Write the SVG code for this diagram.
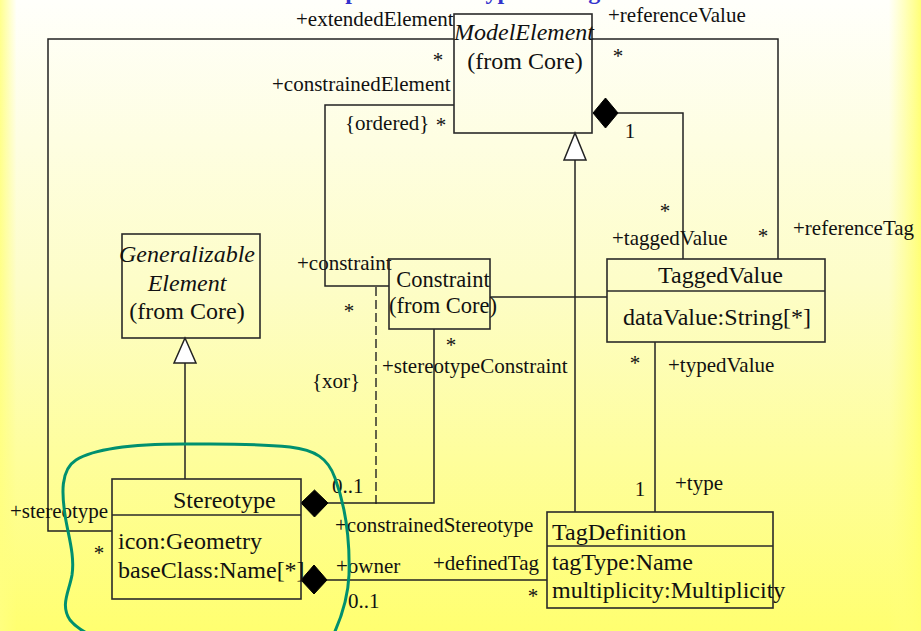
<svg xmlns="http://www.w3.org/2000/svg" width="921" height="631" viewBox="0 0 921 631">
  <defs>
    <linearGradient id="bgV" x1="0" y1="0" x2="0" y2="1">
      <stop offset="0" stop-color="#fffffb"/>
      <stop offset="0.45" stop-color="#fdfdc8"/>
      <stop offset="1" stop-color="#ffff70"/>
    </linearGradient>
    <linearGradient id="bgH" x1="0" y1="0" x2="1" y2="0">
      <stop offset="0" stop-color="#ffff80" stop-opacity="0.9"/>
      <stop offset="0.018" stop-color="#ffff80" stop-opacity="0"/>
      <stop offset="0.965" stop-color="#ffff80" stop-opacity="0"/>
      <stop offset="1" stop-color="#ffff70" stop-opacity="0.95"/>
    </linearGradient>
    <style>
      .box { fill: none; stroke: #2a2a2a; stroke-width: 1.6; }
      .ln { fill: none; stroke: #222; stroke-width: 1.5; }
      .dash { fill: none; stroke: #222; stroke-width: 1.4; stroke-dasharray: 9 4; }
      .dia { fill: #000; stroke: #000; stroke-width: 1; }
      .tri { fill: #fff; stroke: #222; stroke-width: 1.5; }
      .cls { font-family: "Liberation Serif", "Times New Roman", serif; font-size: 24px; fill: #111; }
      .it { font-style: italic; }
      .lbl { font-family: "Liberation Serif", "Times New Roman", serif; font-size: 21px; fill: #111; }
      .mid { text-anchor: middle; }
      .title { font-family: "Liberation Serif", "Times New Roman", serif; font-size: 24px; font-weight: bold; fill: #3333cc; }
      .lasso { fill: none; stroke: #00906f; stroke-width: 3; }
    </style>
  </defs>

  <!-- background -->
  <rect x="0" y="0" width="921" height="631" fill="url(#bgV)"/>
  <rect x="0" y="0" width="921" height="631" fill="url(#bgH)"/>

  <!-- slide heading, mostly above the top edge -->
  <text class="title" x="280" y="-1.5">Description: Stereotypes &amp; Tags</text>

  <!-- connectors -->
  <g id="connectors">
    <!-- extendedElement / stereotype -->
    <polyline class="ln" points="454,39 48,39 48,531 112,531"/>
    <!-- referenceValue / referenceTag -->
    <polyline class="ln" points="592,39 778,39 778,259"/>
    <!-- ModelElement composition of TaggedValue -->
    <polyline class="ln" points="618,113 683,113 683,259"/>
    <polygon class="dia" points="593,113 605.5,98 618,113 605.5,128"/>
    <!-- constrainedElement / constraint -->
    <polyline class="ln" points="454,105 325,105 325,286 389,286"/>
    <!-- Constraint - TaggedValue -->
    <line class="ln" x1="490" y1="297" x2="607" y2="297"/>
    <!-- TagDefinition generalizes ModelElement -->
    <line class="ln" x1="575" y1="160" x2="575" y2="512"/>
    <polygon class="tri" points="575,133 564,160 586,160"/>
    <!-- Stereotype generalizes GeneralizableElement -->
    <line class="ln" x1="185" y1="363" x2="185" y2="479"/>
    <polygon class="tri" points="185,338 174,363 196,363"/>
    <!-- typedValue / type -->
    <line class="ln" x1="655" y1="342" x2="655" y2="512"/>
    <!-- constrainedStereotype / stereotypeConstraint -->
    <polyline class="ln" points="328,503 434,503 434,329"/>
    <polygon class="dia" points="301,503 314.5,490 328,503 314.5,517"/>
    <!-- xor constraint -->
    <line class="dash" x1="376" y1="287" x2="376" y2="507"/>
    <!-- owner / definedTag -->
    <line class="ln" x1="327" y1="580" x2="547" y2="580"/>
    <polygon class="dia" points="301,580 314,565 327,580 314,594"/>
  </g>

  <!-- association end labels -->
  <g id="labels">
    <text class="lbl" x="296" y="26">+extendedElement</text>
    <text class="lbl mid" x="438" y="67">*</text>
    <text class="lbl" x="608" y="22">+referenceValue</text>
    <text class="lbl mid" x="618" y="63">*</text>
    <text class="lbl" x="272" y="91">+constrainedElement</text>
    <text class="lbl" x="345" y="130">{ordered}</text>
    <text class="lbl mid" x="441" y="132">*</text>
    <text class="lbl mid" x="630" y="138">1</text>
    <text class="lbl mid" x="665" y="218">*</text>
    <text class="lbl" x="612" y="245">+taggedValue</text>
    <text class="lbl mid" x="763" y="243">*</text>
    <text class="lbl" x="793" y="235">+referenceTag</text>
    <text class="lbl" x="297" y="270">+constraint</text>
    <text class="lbl mid" x="349" y="318">*</text>
    <text class="lbl mid" x="451" y="352">*</text>
    <text class="lbl" x="382" y="373">+stereotypeConstraint</text>
    <text class="lbl" x="312" y="388">{xor}</text>
    <text class="lbl mid" x="635" y="370">*</text>
    <text class="lbl" x="668" y="372">+typedValue</text>
    <text class="lbl mid" x="640" y="496">1</text>
    <text class="lbl" x="675" y="490">+type</text>
    <text class="lbl" x="332" y="493">0..1</text>
    <text class="lbl" x="335" y="532">+constrainedStereotype</text>
    <text class="lbl" x="10" y="518">+stereotype</text>
    <text class="lbl mid" x="99" y="560">*</text>
    <text class="lbl" x="336" y="573">+owner</text>
    <text class="lbl" x="433" y="570">+definedTag</text>
    <text class="lbl mid" x="533" y="603">*</text>
    <text class="lbl" x="348" y="608">0..1</text>
  </g>

  <!-- classes -->
  <g id="ModelElement">
    <rect class="box" x="454" y="14" width="138" height="119"/>
    <text class="cls it mid" x="524" y="40">ModelElement</text>
    <text class="cls mid" x="525" y="69">(from Core)</text>
  </g>

  <g id="GeneralizableElement">
    <rect class="box" x="122" y="234" width="138" height="104"/>
    <text class="cls it mid" x="187" y="262">Generalizable</text>
    <text class="cls it mid" x="187" y="291">Element</text>
    <text class="cls mid" x="187" y="319">(from Core)</text>
  </g>

  <g id="Constraint">
    <rect class="box" x="389" y="259" width="101" height="70"/>
    <text class="cls mid" x="443" y="287" style="font-size:22.5px">Constraint</text>
    <text class="cls mid" x="443" y="313" style="font-size:22.5px">(from Core)</text>
  </g>

  <g id="TaggedValue">
    <rect class="box" x="607" y="259" width="218" height="83"/>
    <line class="box" x1="607" y1="291" x2="825" y2="291"/>
    <text class="cls" x="658" y="283">TaggedValue</text>
    <text class="cls" x="623" y="325">dataValue:String[*]</text>
  </g>

  <g id="Stereotype">
    <rect class="box" x="112" y="479" width="189" height="120"/>
    <line class="box" x1="112" y1="515" x2="301" y2="515"/>
    <text class="cls" x="173" y="508">Stereotype</text>
    <text class="cls" x="118" y="549">icon:Geometry</text>
    <text class="cls" x="118" y="578">baseClass:Name[*]</text>
  </g>

  <g id="TagDefinition">
    <rect class="box" x="547" y="512" width="226" height="96"/>
    <line class="box" x1="547" y1="546" x2="773" y2="546"/>
    <text class="cls" x="552" y="540">TagDefinition</text>
    <text class="cls" x="552" y="570">tagType:Name</text>
    <text class="cls" x="552" y="598">multiplicity:Multiplicity</text>
  </g>

  <!-- hand-drawn highlight around Stereotype -->
  <path class="lasso" d="M184,444 C140,444 95,448 76,460 C60,470 62,495 65,515 C68,535 75,555 72,575 C69,592 60,605 70,620 C78,630 92,636 105,642 L330,642 C340,622 348,600 349,575 C350,540 345,505 335,478 C328,458 315,450 290,447 C250,443 220,444 184,444 Z"/>
</svg>
